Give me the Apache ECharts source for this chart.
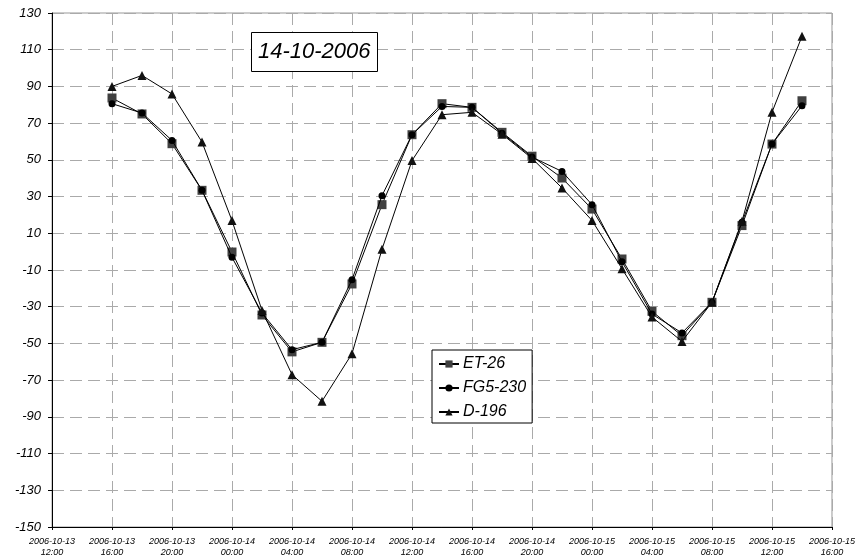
<!DOCTYPE html>
<html>
<head>
<meta charset="utf-8">
<script src="https://cdn.jsdelivr.net/npm/echarts@6/dist/echarts.min.js"></script>
<style>
html,body{margin:0;padding:0;background:#fff;}
#chart{width:858px;height:559px;}
</style>
</head>
<body>
<div id="chart"></div>
<script>
const times = ['2006-10-13 16:00','2006-10-13 18:00','2006-10-13 20:00','2006-10-13 22:00',
  '2006-10-14 00:00','2006-10-14 02:00','2006-10-14 04:00','2006-10-14 06:00','2006-10-14 08:00',
  '2006-10-14 10:00','2006-10-14 12:00','2006-10-14 14:00','2006-10-14 16:00','2006-10-14 18:00',
  '2006-10-14 20:00','2006-10-14 22:00','2006-10-15 00:00','2006-10-15 02:00','2006-10-15 04:00',
  '2006-10-15 06:00','2006-10-15 08:00','2006-10-15 10:00','2006-10-15 12:00','2006-10-15 14:00'];
const et26 = [83.7, 75, 58.8, 33.4, -0.2, -34.5, -54.6, -49.4, -17.6, 25.6, 63.7, 80.6, 78.6, 65, 52, 40.1, 23.2, -4, -32.5, -45.8, -27.6, 14.2, 58.6, 82.2];
const fg5230 = [80.6, 75.5, 60.6, 33.4, -3.1, -33.4, -53.4, -49.4, -15.3, 30.5, 63.7, 79.1, 78.6, 64.5, 51.5, 43.7, 25.6, -5.5, -34, -44.3, -27.6, 16, 58.6, 79.5];
const d196 = [90, 96, 85.9, 59.7, 16.9, -32, -67, -81.5, -55.6, 1.3, 49.6, 74.6, 75.9, 64, 50.8, 34.7, 17, -9.3, -35.6, -48.9, -27.6, 16.5, 75.9, 117.3];
const xTickLabels = ['2006-10-13\n12:00','2006-10-13\n16:00','2006-10-13\n20:00','2006-10-14\n00:00',
  '2006-10-14\n04:00','2006-10-14\n08:00','2006-10-14\n12:00','2006-10-14\n16:00','2006-10-14\n20:00',
  '2006-10-15\n00:00','2006-10-15\n04:00','2006-10-15\n08:00','2006-10-15\n12:00','2006-10-15\n16:00'];
const startTime = '2006-10-13 12:00';
const titleText = '14-10-2006';

function toHours(s) {
  const m = s.match(/(\d+)-(\d+)-(\d+) (\d+):(\d+)/);
  return Date.UTC(+m[1], +m[2]-1, +m[3], +m[4], +m[5]) / 3600000;
}
const t0 = toHours(startTime);
const xs = times.map(t => toHours(t) - t0);
const pair = arr => arr.map((v, i) => [xs[i], v]);

const FONT = 'Liberation Sans, Arial, sans-serif';
const chart = echarts.init(document.getElementById('chart'), null, {renderer: 'canvas'});
const lineStyle = {color: '#000', width: 1};
chart.setOption({
  animation: false,
  backgroundColor: '#fff',
  title: {
    text: titleText, left: 251, top: 32,
    padding: [9, 7, 9, 7],
    borderColor: '#000', borderWidth: 1, backgroundColor: '#fff',
    textStyle: {fontFamily: FONT, fontSize: 22, fontStyle: 'italic', fontWeight: 'normal', color: '#000', lineHeight: 22}
  },
  legend: {
    orient: 'vertical', left: 432, top: 350,
    padding: [6, 6, 3, 6], itemGap: 8, itemWidth: 20, itemHeight: 9,
    borderColor: '#000', borderWidth: 1, backgroundColor: '#fff',
    textStyle: {fontFamily: FONT, fontSize: 16, fontStyle: 'italic', color: '#000', padding: [0, 0, 0, -1]},
    data: ['ET-26', 'FG5-230', 'D-196']
  },
  grid: {left: 52, right: 25, top: 13, bottom: 32, show: true, borderColor: '#999', borderWidth: 1, containLabel: false},
  xAxis: {
    type: 'value', min: 0, max: 52, interval: 4,
    axisLine: {show: true, onZero: false, lineStyle: {color: '#000', width: 1}},
    axisTick: {show: true, length: 3, lineStyle: {color: '#000'}},
    splitLine: {show: true, lineStyle: {color: '#aaa', type: [12, 6], width: 1}},
    axisLabel: {
      fontFamily: FONT, fontSize: 9, fontStyle: 'italic', color: '#000', margin: 9, lineHeight: 11,
      showMinLabel: true, showMaxLabel: true,
      formatter: v => xTickLabels[Math.round(v / 4)] || ''
    }
  },
  yAxis: {
    type: 'value', min: -150, max: 130, interval: 20,
    axisLine: {show: true, onZero: false, lineStyle: {color: '#000', width: 1}},
    axisTick: {show: true, length: 4, lineStyle: {color: '#000'}},
    splitLine: {show: true, lineStyle: {color: '#aaa', type: [12, 6], width: 1}},
    axisLabel: {fontFamily: FONT, fontSize: 13, fontStyle: 'italic', color: '#000', margin: 11}
  },
  series: [
    {name: 'ET-26', type: 'line', data: pair(et26), symbol: 'rect', symbolSize: 9,
     itemStyle: {color: '#404040', borderWidth: 0}, lineStyle: lineStyle, z: 2},
    {name: 'FG5-230', type: 'line', data: pair(fg5230), symbol: 'circle', symbolSize: 7,
     itemStyle: {color: '#000', borderWidth: 0}, lineStyle: lineStyle, z: 3},
    {name: 'D-196', type: 'line', data: pair(d196), symbol: 'triangle', symbolSize: 9,
     itemStyle: {color: '#111', borderWidth: 0}, lineStyle: lineStyle, z: 4}
  ]
});
</script>
</body>
</html>
